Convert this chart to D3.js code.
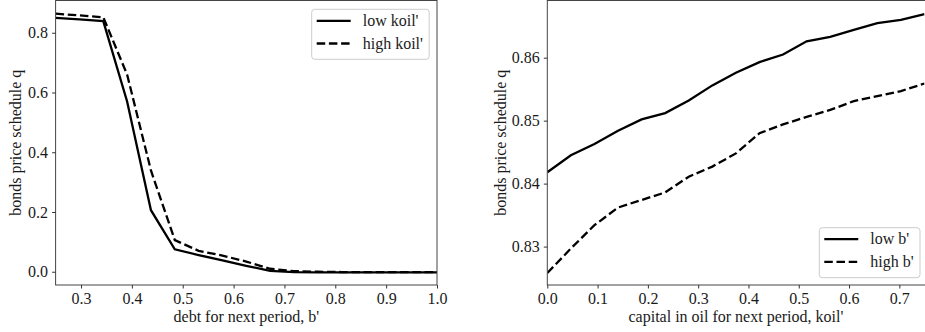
<!DOCTYPE html>
<html>
<head>
<meta charset="utf-8">
<script src="https://cdn.jsdelivr.net/npm/d3@7"></script>
<style>
  body { margin: 0; background: #fff; }
  svg { display: block; }
  .tick line { stroke: #333; }
  .domain { display: none; }
</style>
</head>
<body>
<div id="chart"></div>
<script>
// left panel: price schedule against debt b'
var debtGrid = [0.25, 0.296875, 0.34375, 0.390625, 0.4375, 0.484375, 0.53125, 0.578125, 0.625,
                0.671875, 0.71875, 0.765625, 0.8125, 0.859375, 0.90625, 0.953125, 1.0];
var qLowKoil = [0.850, 0.845, 0.839, 0.570, 0.206, 0.075, 0.056, 0.038, 0.020,
                0.003, -0.001, -0.002, -0.002, -0.002, -0.002, -0.002, -0.002];
var qHighKoil = [0.864, 0.858, 0.852, 0.660, 0.339, 0.106, 0.070, 0.054, 0.034,
                 0.010, 0.002, 0.000, -0.001, -0.001, -0.001, -0.001, -0.001];

// right panel: price schedule against koil'
var koilGrid = [0, 0.046875, 0.09375, 0.140625, 0.1875, 0.234375, 0.28125, 0.328125, 0.375,
                0.421875, 0.46875, 0.515625, 0.5625, 0.609375, 0.65625, 0.703125, 0.75];
var qLowB = [0.8418, 0.8445, 0.8463, 0.8484, 0.8502, 0.8512, 0.8532, 0.8556, 0.8576,
             0.8593, 0.8605, 0.8626, 0.8633, 0.8644, 0.8655, 0.8660, 0.8669];
var qHighB = [0.8258, 0.8297, 0.8334, 0.8362, 0.8374, 0.8386, 0.8411, 0.8427, 0.8448,
              0.8480, 0.8494, 0.8506, 0.8517, 0.8531, 0.8539, 0.8547, 0.8559];

var leftXTicks = [0.3, 0.4, 0.5, 0.6, 0.7, 0.8, 0.9, 1.0];
var leftYTicks = [0.0, 0.2, 0.4, 0.6, 0.8];
var rightXTicks = [0.0, 0.1, 0.2, 0.3, 0.4, 0.5, 0.6, 0.7];
var rightYTicks = [0.83, 0.84, 0.85, 0.86];

var serif = "'Liberation Serif', 'Times New Roman', serif";
var fs = 16;
var W = 925, H = 332;
var svg = d3.select("#chart").append("svg")
  .attr("width", W)
  .attr("height", H)
  .style("font-family", serif);

function styleAxis(sel) {
  sel.attr("font-family", serif).attr("font-size", fs);
  sel.selectAll("text").attr("fill", "#1a1a1a");
}

function panel(opt) {
  var x = d3.scaleLinear().domain(opt.xDomain).range([opt.left, opt.right]);
  var y = d3.scaleLinear().domain(opt.yDomain).range([opt.bottom, opt.top]);
  var g = svg.append("g");

  var line = d3.line()
    .x(function(d) { return x(d[0]); })
    .y(function(d) { return y(d[1]); });

  var clipId = "clip" + opt.id;
  g.append("clipPath").attr("id", clipId)
    .append("rect")
    .attr("x", opt.left).attr("y", opt.top)
    .attr("width", opt.right - opt.left).attr("height", opt.bottom - opt.top);

  opt.series.forEach(function(s) {
    g.append("path")
      .datum(opt.xs.map(function(v, i) { return [v, s.values[i]]; }))
      .attr("clip-path", "url(#" + clipId + ")")
      .attr("fill", "none")
      .attr("stroke", "#000")
      .attr("stroke-width", 2.3)
      .attr("stroke-dasharray", s.dash ? "8.5,3.7" : null)
      .attr("d", line);
  });

  // frame (right panel's right spine falls just outside the picture)
  g.append("rect")
    .attr("x", opt.left).attr("y", opt.top)
    .attr("width", opt.frameRight - opt.left).attr("height", opt.bottom - opt.top)
    .attr("fill", "none")
    .attr("stroke", "#444")
    .attr("stroke-width", 1);

  g.append("g")
    .attr("transform", "translate(0," + opt.bottom + ")")
    .call(d3.axisBottom(x).tickValues(opt.xTicks).tickSize(3.5).tickPadding(4)
      .tickFormat(d3.format(opt.xFmt)))
    .call(styleAxis);

  g.append("g")
    .attr("transform", "translate(" + opt.left + ",0)")
    .call(d3.axisLeft(y).tickValues(opt.yTicks).tickSize(3.5).tickPadding(4)
      .tickFormat(d3.format(opt.yFmt)))
    .call(styleAxis);

  g.append("text")
    .attr("x", (opt.left + opt.right) / 2)
    .attr("y", 322)
    .attr("text-anchor", "middle")
    .style("font-size", fs + "px")
    .attr("fill", "#1a1a1a")
    .text(opt.xLabel);

  g.append("text")
    .attr("transform", "translate(" + opt.yLabelX + "," + ((opt.top + opt.bottom) / 2) + ") rotate(-90)")
    .attr("text-anchor", "middle")
    .attr("dy", "0.35em")
    .style("font-size", fs + "px")
    .attr("fill", "#1a1a1a")
    .text("bonds price schedule q");

  // legend
  var lg = g.append("g").attr("transform", "translate(" + opt.legend[0] + "," + opt.legend[1] + ")");
  lg.append("rect")
    .attr("width", opt.legendW).attr("height", 50)
    .attr("rx", 3)
    .attr("fill", "#fff").attr("fill-opacity", 0.8)
    .attr("stroke", "#ccc");
  opt.series.forEach(function(s, i) {
    var yy = 11.5 + i * 22.7;
    lg.append("line")
      .attr("x1", 5).attr("x2", 39)
      .attr("y1", yy).attr("y2", yy)
      .attr("stroke", "#000").attr("stroke-width", 2.3)
      .attr("stroke-dasharray", s.dash ? "8.5,3.7" : null);
    lg.append("text")
      .attr("x", 51).attr("y", yy)
      .attr("dy", "0.33em")
      .style("font-size", fs + "px")
      .attr("fill", "#1a1a1a")
      .text(s.name);
  });
}

panel({
  id: "L", left: 55.6, right: 437, frameRight: 437, top: 0.5, bottom: 285,
  xDomain: [0.25, 1.0], yDomain: [-0.0444, 0.908],
  xs: debtGrid,
  series: [{name: "low koil'", values: qLowKoil, dash: false},
           {name: "high koil'", values: qHighKoil, dash: true}],
  xTicks: leftXTicks, yTicks: leftYTicks, xFmt: ".1f", yFmt: ".1f",
  xLabel: "debt for next period, b'", yLabelX: 15.5,
  legend: [311.7, 9.3], legendW: 117.5
});

panel({
  id: "R", left: 547.3, right: 924.5, frameRight: 927, top: 0.5, bottom: 285,
  xDomain: [0, 0.75], yDomain: [0.8239, 0.86908],
  xs: koilGrid,
  series: [{name: "low b'", values: qLowB, dash: false},
           {name: "high b'", values: qHighB, dash: true}],
  xTicks: rightXTicks, yTicks: rightYTicks, xFmt: ".1f", yFmt: ".2f",
  xLabel: "capital in oil for next period, koil'", yLabelX: 500,
  legend: [819.3, 227.7], legendW: 100.7
});
</script>
</body>
</html>
